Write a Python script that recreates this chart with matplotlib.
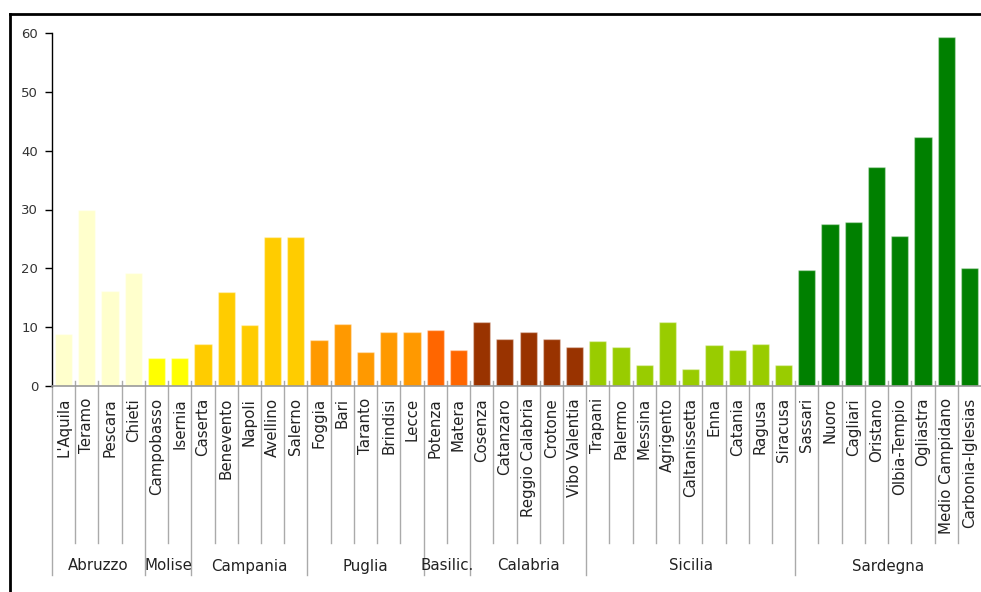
import matplotlib
matplotlib.use("Agg")
import matplotlib.pyplot as plt
from matplotlib.lines import Line2D

plt.rcParams['font.family'] = ['DejaVu Sans']

regions = ["Abruzzo", "Molise", "Campania", "Puglia", "Basilic.", "Calabria", "Sicilia", "Sardegna"]
region_colors = ["#FFFFCC", "#FFFF00", "#FFCC00", "#FF9900", "#FF6600", "#993300", "#99CC00", "#008000"]

provinces = [
    ["L'Aquila", "Teramo", "Pescara", "Chieti"],
    ["Campobasso", "Isernia"],
    ["Caserta", "Benevento", "Napoli", "Avellino", "Salerno"],
    ["Foggia", "Bari", "Taranto", "Brindisi", "Lecce"],
    ["Potenza", "Matera"],
    ["Cosenza", "Catanzaro", "Reggio Calabria", "Crotone", "Vibo Valentia"],
    ["Trapani", "Palermo", "Messina", "Agrigento", "Caltanissetta", "Enna", "Catania", "Ragusa", "Siracusa"],
    ["Sassari", "Nuoro", "Cagliari", "Oristano", "Olbia-Tempio", "Ogliastra", "Medio Campidano", "Carbonia-Iglesias"],
]
values = [
    [8.8, 29.9, 16.1, 19.2],
    [4.8, 4.8],
    [7.2, 16.0, 10.4, 25.4, 25.3],
    [7.9, 10.5, 5.8, 9.1, 9.1],
    [9.5, 6.1],
    [10.8, 8.0, 9.2, 8.0, 6.7],
    [7.7, 6.6, 3.6, 10.9, 2.9, 6.9, 6.1, 7.1, 3.5],
    [19.8, 27.5, 27.8, 37.3, 25.5, 42.4, 59.3, 20.1],
]
yticks = [0, 10, 20, 30, 40, 50, 60]

W, H = 981, 592
fig = plt.figure(figsize=(W / 100, H / 100), dpi=100)
ax_left, ax_right, ax_top, ax_bottom = 52, 981, 33, 386
ax = fig.add_axes([ax_left / W, 1 - ax_bottom / H, (ax_right - ax_left) / W, (ax_bottom - ax_top) / H])
ax_h = ax_bottom - ax_top

names, vals, cols, group_bounds = [], [], [], [0]
for r, c, p, v in zip(regions, region_colors, provinces, values):
    names += p
    vals += v
    cols += [c] * len(p)
    group_bounds.append(len(names))

n = len(names)
xs = list(range(n))
ax.bar(xs, vals, width=0.74, color=cols, edgecolor=(1, 1, 1, 0.35), linewidth=1.0, zorder=2)

ax.set_xlim(-0.5, n - 0.5)
ax.set_ylim(0, 60)
ax.set_yticks(yticks)
ax.tick_params(axis='y', direction='out', length=5, width=1, color='black', pad=5,
               labelsize=9.5, labelcolor='#333333')
ax.set_xticks([])
for s in ['top', 'right']:
    ax.spines[s].set_visible(False)
ax.spines['left'].set_color('black')
ax.spines['left'].set_linewidth(1)
ax.spines['bottom'].set_color('#999999')
ax.spines['bottom'].set_linewidth(1.2)

tr = ax.get_xaxis_transform()
short = -157 / ax_h
long_ = -189 / ax_h
up = 5 / ax_h
for b in range(n):
    xb = b - 0.5
    y1 = long_ if b in group_bounds else short
    ax.plot([xb, xb], [up if b > 0 else 0, y1], transform=tr, color='#aaaaaa', lw=1, clip_on=False, zorder=1)

for i, name in enumerate(names):
    ax.text(i, -12 / ax_h, name, transform=tr, rotation=90, ha='center', va='top',
            fontsize=10.8, color='#222222')

for g, r in enumerate(regions):
    center = (group_bounds[g] + group_bounds[g + 1] - 1) / 2
    ax.text(center, -180 / ax_h, r, transform=tr, ha='center', va='center',
            fontsize=10.8, color='#222222')

# outer frame (top and left)
fig.add_artist(Line2D([10 / W, 1], [1 - 14 / H, 1 - 14 / H], color='black', lw=2))
fig.add_artist(Line2D([10 / W, 10 / W], [0, 1 - 14 / H], color='black', lw=2))

fig.savefig("out.png", dpi=100)
